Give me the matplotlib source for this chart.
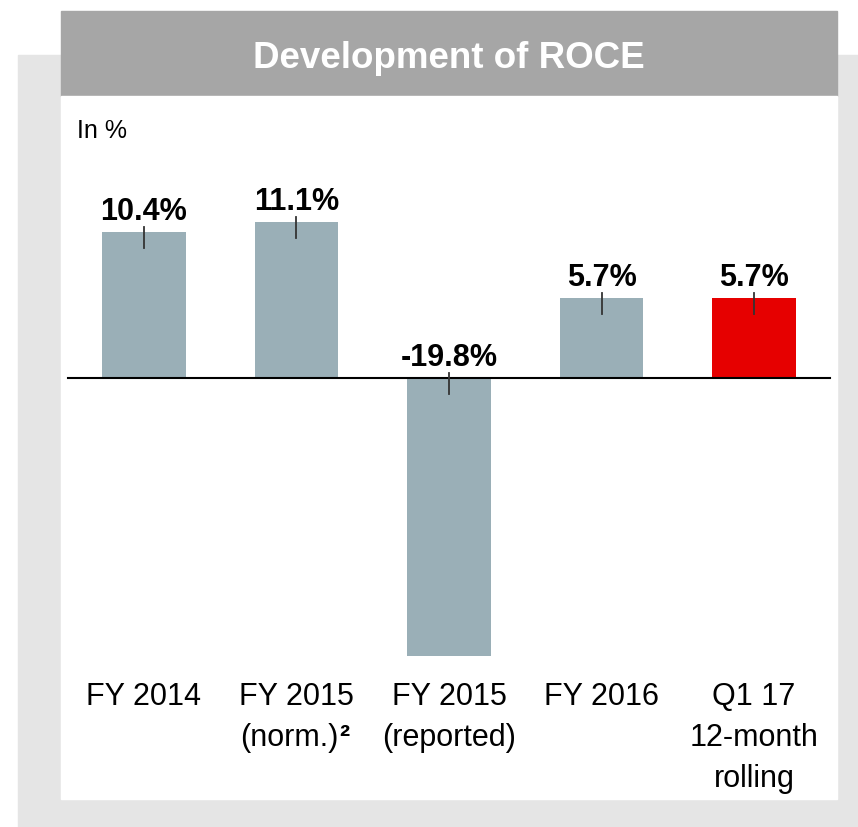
import numpy as np
import matplotlib.pyplot as plt
from matplotlib.patches import Rectangle
from matplotlib.transforms import blended_transform_factory

plt.rcParams['font.family'] = ['Liberation Sans', 'DejaVu Sans']

# data
categories = ["FY 2014", "FY 2015\n(norm.)", "FY 2015\n(reported)", "FY 2016", "Q1 17\n12-month\nrolling"]
values = [10.4, 11.1, -19.8, 5.7, 5.7]
labels = ["10.4%", "11.1%", "-19.8%", "5.7%", "5.7%"]
bar_colors = ['#9aafb7', '#9aafb7', '#9aafb7', '#9aafb7', '#e60000']

W, H = 858, 828
fig = plt.figure(figsize=(W / 100, H / 100), dpi=100)

# background panels (pixel -> figure fraction)
def px_rect(x0, y0, x1, y1, color):
    fig.patches.append(Rectangle((x0 / W, 1 - y1 / H), (x1 - x0) / W, (y1 - y0) / H,
                                 transform=fig.transFigure, color=color, zorder=-10))

px_rect(18, 56, 858, 828, '#e5e5e5')
px_rect(61, 12, 837, 97, '#a6a6a6')
px_rect(61, 97, 837, 800, 'white')

fig.text(449 / W, 1 - 68 / H, "Development of ROCE", color='white', fontsize=26.5,
         fontweight='bold', ha='center', va='baseline')

ax = fig.add_axes([61 / W, 1 - 800 / H, 776 / W, 703 / H])
ax.set_zorder(5)
ax.patch.set_alpha(0)
for s in ax.spines.values():
    s.set_visible(False)
ax.set_xticks([])
ax.set_yticks([])

x = np.arange(len(values))
ax.bar(x, values, width=0.55, color=bar_colors, zorder=2)
ax.set_xlim(-0.544, 4.544)
ax.set_ylim(-30.0, 20.1)

ax.axhline(0, xmin=0.009, xmax=0.991, color='black', lw=1.5, zorder=3)

# small marks and value labels
for xi, v, lab in zip(x, values, labels):
    top = max(v, 0)
    ax.plot([xi, xi], [top + 0.38, top - 1.12], color='#333333', lw=1.3, zorder=4)
    ax.annotate(lab, xy=(xi, top), xytext=(0, 9.5), textcoords='offset points',
                ha='center', va='baseline', fontsize=22, fontweight='bold')

# category labels
tr = blended_transform_factory(ax.transData, ax.transAxes)
baselines = [(800 - 705) / 703, (800 - 746) / 703, (800 - 787) / 703]
for xi, cat in zip(x, categories):
    for j, line in enumerate(cat.split("\n")):
        t = ax.text(xi, baselines[j], line, transform=tr, ha='center', va='baseline', fontsize=22)
        if line == "(norm.)":
            t.set_x(xi - 0.05)
            ax.annotate("²", xy=(1, 0), xycoords=t, xytext=(1, 0), textcoords='offset points',
                        ha='left', va='bottom', fontsize=22, fontweight='bold')

ax.text((77 - 61) / 776, (800 - 138) / 703, "In %", transform=ax.transAxes,
        ha='left', va='baseline', fontsize=18)

plt.savefig('out.png', dpi=100)
